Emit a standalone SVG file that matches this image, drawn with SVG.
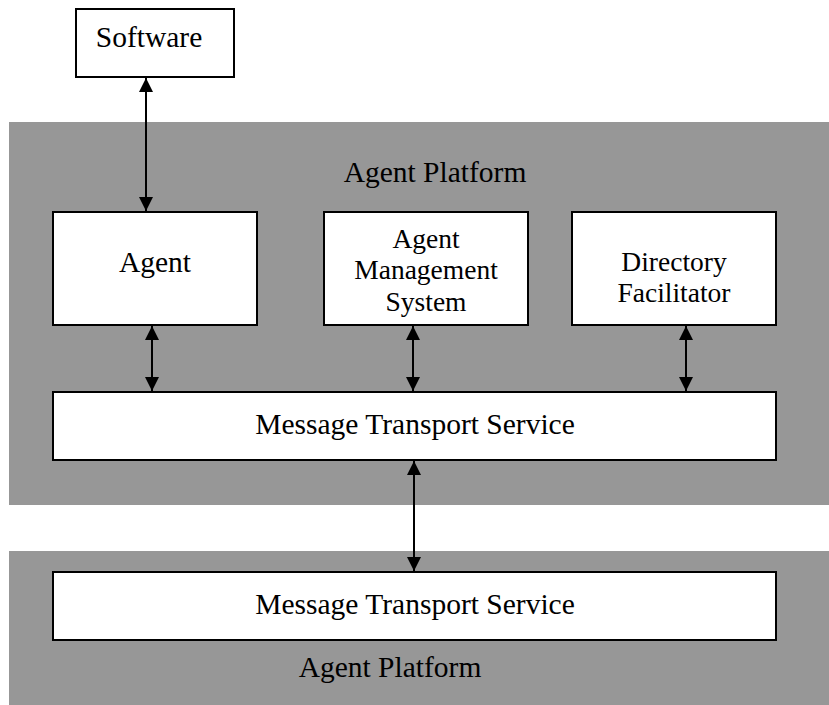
<svg xmlns="http://www.w3.org/2000/svg" width="829" height="705" viewBox="0 0 829 705">
<defs>
<marker id="ah" viewBox="0 0 14 15" refX="14" refY="7" markerWidth="14" markerHeight="15" markerUnits="userSpaceOnUse" orient="auto-start-reverse">
<path d="M0,0 L14,7 L0,14 Z" fill="#000"/>
</marker>
<style>
.panel{fill:#979797;stroke:none}
.box{fill:#fff;stroke:#000;stroke-width:2}
.t{font-family:"Liberation Serif","Times New Roman",serif;fill:#000;text-anchor:middle}
.big{font-size:29.5px}
.sm{font-size:27.5px}
.c{stroke:#000;stroke-width:2;fill:none;marker-start:url(#ah);marker-end:url(#ah)}
</style>
</defs>
<g id="platform1">
<rect class="panel" x="9" y="122" width="820" height="383"/>
<text class="t big" x="435" y="182">Agent Platform</text>
</g>
<g id="platform2">
<rect class="panel" x="9" y="551" width="820" height="154"/>
<text class="t big" x="390" y="677">Agent Platform</text>
</g>
<g id="software">
<rect class="box" x="76" y="9" width="158" height="68"/>
<text class="t big" x="149" y="47">Software</text>
</g>
<g id="agent">
<rect class="box" x="53" y="212" width="204" height="113"/>
<text class="t big" x="155" y="272">Agent</text>
</g>
<g id="ams">
<rect class="box" x="324" y="212" width="204" height="113"/>
<text class="t sm" x="426" y="248">Agent</text>
<text class="t sm" x="426" y="279">Management</text>
<text class="t sm" x="426" y="311">System</text>
</g>
<g id="df">
<rect class="box" x="572" y="212" width="204" height="113"/>
<text class="t sm" x="674" y="271">Directory</text>
<text class="t sm" x="674" y="302">Facilitator</text>
</g>
<g id="mts1">
<rect class="box" x="53" y="392" width="723" height="68"/>
<text class="t big" x="415" y="434">Message Transport Service</text>
</g>
<g id="mts2">
<rect class="box" x="53" y="572" width="723" height="68"/>
<text class="t big" x="415" y="614">Message Transport Service</text>
</g>
<g id="connectors">
<line class="c" x1="146" y1="78" x2="146" y2="211"/>
<line class="c" x1="152" y1="326" x2="152" y2="391"/>
<line class="c" x1="413" y1="326" x2="413" y2="391"/>
<line class="c" x1="686" y1="326" x2="686" y2="391"/>
<line class="c" x1="414" y1="461" x2="414" y2="571"/>
</g>
</svg>
